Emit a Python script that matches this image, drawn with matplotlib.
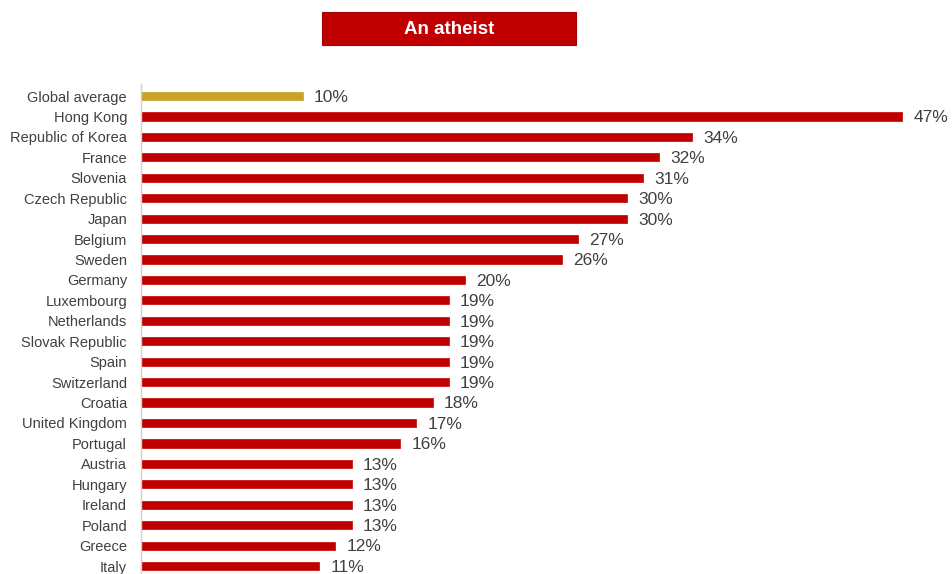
import matplotlib
matplotlib.use("Agg")
import matplotlib.pyplot as plt
from matplotlib.patches import Rectangle

countries = [
    "Global average", "Hong Kong", "Republic of Korea", "France", "Slovenia",
    "Czech Republic", "Japan", "Belgium", "Sweden", "Germany", "Luxembourg",
    "Netherlands", "Slovak Republic", "Spain", "Switzerland", "Croatia",
    "United Kingdom", "Portugal", "Austria", "Hungary", "Ireland", "Poland",
    "Greece", "Italy",
]
values = [10, 47, 34, 32, 31, 30, 30, 27, 26, 20, 19, 19, 19, 19, 19, 18,
          17, 16, 13, 13, 13, 13, 12, 11]
title_text = "An atheist"

red = "#C00000"
gold = "#C9A227"

plt.rcParams["font.family"] = ["Liberation Sans", "DejaVu Sans"]

fig = plt.figure(figsize=(9.52, 5.74), dpi=100)
ax = fig.add_axes([141 / 952, 0.0, 810 / 952, 490 / 574])

colors = [gold] + [red] * (len(values) - 1)
ypos = list(range(len(values)))
ax.barh(ypos, values, height=0.4, color=colors, edgecolor=colors, linewidth=0.5)

for y, v in zip(ypos, values):
    ax.annotate(f"{v}%", xy=(v, y), xytext=(8, -1), textcoords="offset points",
                ha="left", va="center", fontsize=12.5, color="#404040")

ax.set_xlim(0, 50)
ax.set_ylim(23.39, -0.59)
ax.set_yticks(ypos)
ax.set_yticklabels(countries, fontsize=10.5, color="#404040")
ax.tick_params(axis="y", length=0, pad=10)
ax.set_xticks([])
for side in ["top", "right", "bottom"]:
    ax.spines[side].set_visible(False)
ax.spines["left"].set_color("#D0D0D0")
ax.spines["left"].set_linewidth(1)

# title box
fig.patches.append(Rectangle((322 / 952, 1 - 45 / 574), 254 / 952, 33 / 574,
                             transform=fig.transFigure, facecolor=red,
                             edgecolor="#A00000", linewidth=0.8))
fig.text(449 / 952, 1 - 29 / 574, title_text, ha="center", va="center",
         fontsize=13.5, fontweight="bold", color="white")

fig.savefig("out.png", dpi=100)
